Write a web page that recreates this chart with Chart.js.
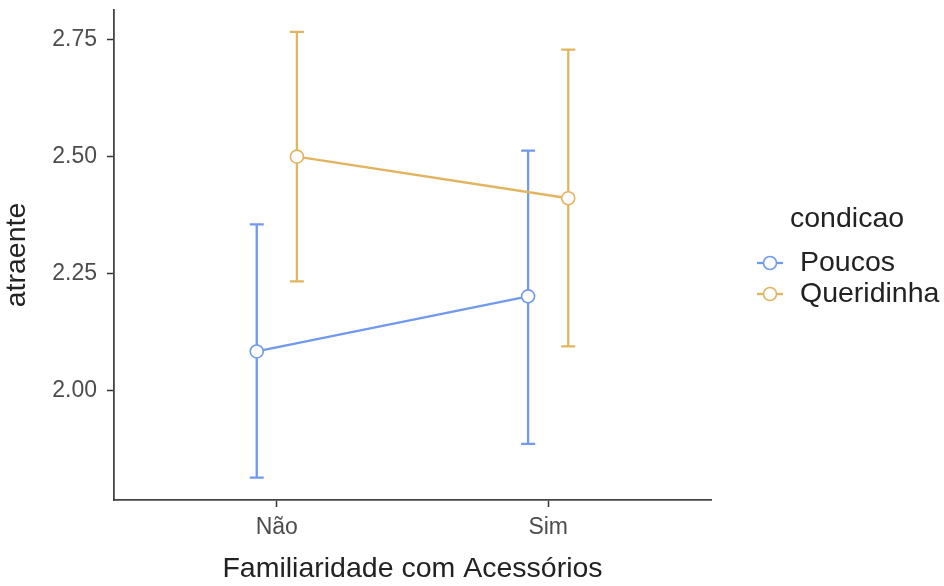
<!DOCTYPE html>
<html>
<head>
<meta charset="utf-8">
<script src="https://cdn.jsdelivr.net/npm/chart.js@4"></script>
<style>
  html, body { margin: 0; padding: 0; background: #fff; }
  #wrap { width: 944px; height: 586px; }
</style>
</head>
<body>
<div id="wrap"><canvas id="grafico" width="944" height="586"></canvas></div>
<script>
const categorias = ['Não', 'Sim'];
const grupos = ['Poucos', 'Queridinha'];
const mediaPoucos = [2.083, 2.201];
const inferiorPoucos = [1.813, 1.885];
const superiorPoucos = [2.355, 2.513];
const mediaQueridinha = [2.500, 2.411];
const inferiorQueridinha = [2.233, 2.094];
const superiorQueridinha = [2.767, 2.729];
const ticksY = [2.00, 2.25, 2.50, 2.75];

const cores = ['#7199ee', '#e3b45f'];
const desvio = 0.074; // dodge

function pontos(medias, inf, sup, lado) {
    return medias.map((m, i) => ({ x: i + 1 + lado * desvio, y: m, lo: inf[i], hi: sup[i] }));
}

const barrasErro = {
    id: 'barrasErro',
    beforeDatasetsDraw(chart) {
        const ctx = chart.ctx;
        const sx = chart.scales.x, sy = chart.scales.y;
        chart.data.datasets.forEach(ds => {
            ctx.save();
            ctx.strokeStyle = ds.borderColor;
            ctx.lineWidth = 2.3;
            ds.data.forEach(p => {
                const x = sx.getPixelForValue(p.x);
                const y1 = sy.getPixelForValue(p.lo);
                const y2 = sy.getPixelForValue(p.hi);
                ctx.beginPath();
                ctx.moveTo(x, y1); ctx.lineTo(x, y2);
                ctx.moveTo(x - 7, y1); ctx.lineTo(x + 7, y1);
                ctx.moveTo(x - 7, y2); ctx.lineTo(x + 7, y2);
                ctx.stroke();
            });
            ctx.restore();
        });
    }
};

const fonte = '"Liberation Sans", Arial, sans-serif';

const legenda = {
    id: 'legenda',
    afterDraw(chart) {
        const ctx = chart.ctx;
        const x0 = chart.chartArea.right + 46;
        ctx.save();
        ctx.font = '28.5px ' + fonte;
        ctx.fillStyle = '#222';
        ctx.textBaseline = 'middle';
        ctx.fillText('condicao', x0 + 33, 219);
        chart.data.datasets.forEach((ds, i) => {
            const y = 263 + i * 31;
            ctx.strokeStyle = ds.borderColor;
            ctx.lineWidth = 2.3;
            ctx.beginPath();
            ctx.moveTo(x0, y); ctx.lineTo(x0 + 26, y);
            ctx.stroke();
            ctx.beginPath();
            ctx.arc(x0 + 13, y, 6.5, 0, Math.PI * 2);
            ctx.fillStyle = '#fff';
            ctx.fill();
            ctx.lineWidth = 1.6;
            ctx.stroke();
            ctx.fillStyle = '#222';
            ctx.fillText(ds.label, x0 + 43, y);
        });
        ctx.restore();
    }
};

function serie(i, data) {
    return {
        label: grupos[i],
        data: data,
        borderColor: cores[i],
        backgroundColor: '#fff',
        borderWidth: 2.3,
        pointRadius: 6.5,
        pointBorderWidth: 1.6,
        pointBackgroundColor: '#fff'
    };
}

new Chart(document.getElementById('grafico'), {
    type: 'line',
    data: {
        datasets: [
            serie(0, pontos(mediaPoucos, inferiorPoucos, superiorPoucos, -1)),
            serie(1, pontos(mediaQueridinha, inferiorQueridinha, superiorQueridinha, 1))
        ]
    },
    options: {
        responsive: false,
        animation: false,
        layout: { padding: { top: 10, right: 233, left: 0, bottom: 0 } },
        plugins: {
            legend: { display: false },
            tooltip: { enabled: false }
        },
        scales: {
            x: {
                type: 'linear',
                min: 0.4,
                max: 2.6,
                afterBuildTicks: s => { s.ticks = categorias.map((c, i) => ({ value: i + 1 })); },
                afterFit: s => { s.height = 86; s.paddingLeft = 0; s.paddingRight = 0; },
                ticks: {
                    callback: v => categorias[Math.round(v) - 1],
                    color: '#4d4d4d',
                    font: { family: fonte, size: 23 },
                    padding: 7,
                    maxRotation: 0
                },
                grid: { drawOnChartArea: false, tickLength: 7, tickColor: '#333', tickWidth: 1.5 },
                border: { color: '#444', width: 1.8 },
                title: {
                    display: true,
                    text: 'Familiaridade com Acessórios',
                    color: '#222',
                    font: { family: fonte, size: 28.5 },
                    padding: { top: 0, bottom: 0 }
                }
            },
            y: {
                min: 1.765,
                max: 2.814,
                afterBuildTicks: s => { s.ticks = ticksY.map(v => ({ value: v })); },
                afterFit: s => { s.width = 114; s.paddingTop = 0; s.paddingBottom = 0; },
                ticks: {
                    callback: v => v.toFixed(2),
                    color: '#4d4d4d',
                    font: { family: fonte, size: 23 },
                    padding: 10
                },
                grid: { drawOnChartArea: false, tickLength: 7, tickColor: '#333', tickWidth: 1.5 },
                border: { color: '#444', width: 1.8 },
                title: {
                    display: true,
                    text: 'atraente',
                    color: '#222',
                    font: { family: fonte, size: 28.5 },
                    padding: { top: 0, bottom: 0 }
                }
            }
        }
    },
    plugins: [barrasErro, legenda]
});
</script>
</body>
</html>
